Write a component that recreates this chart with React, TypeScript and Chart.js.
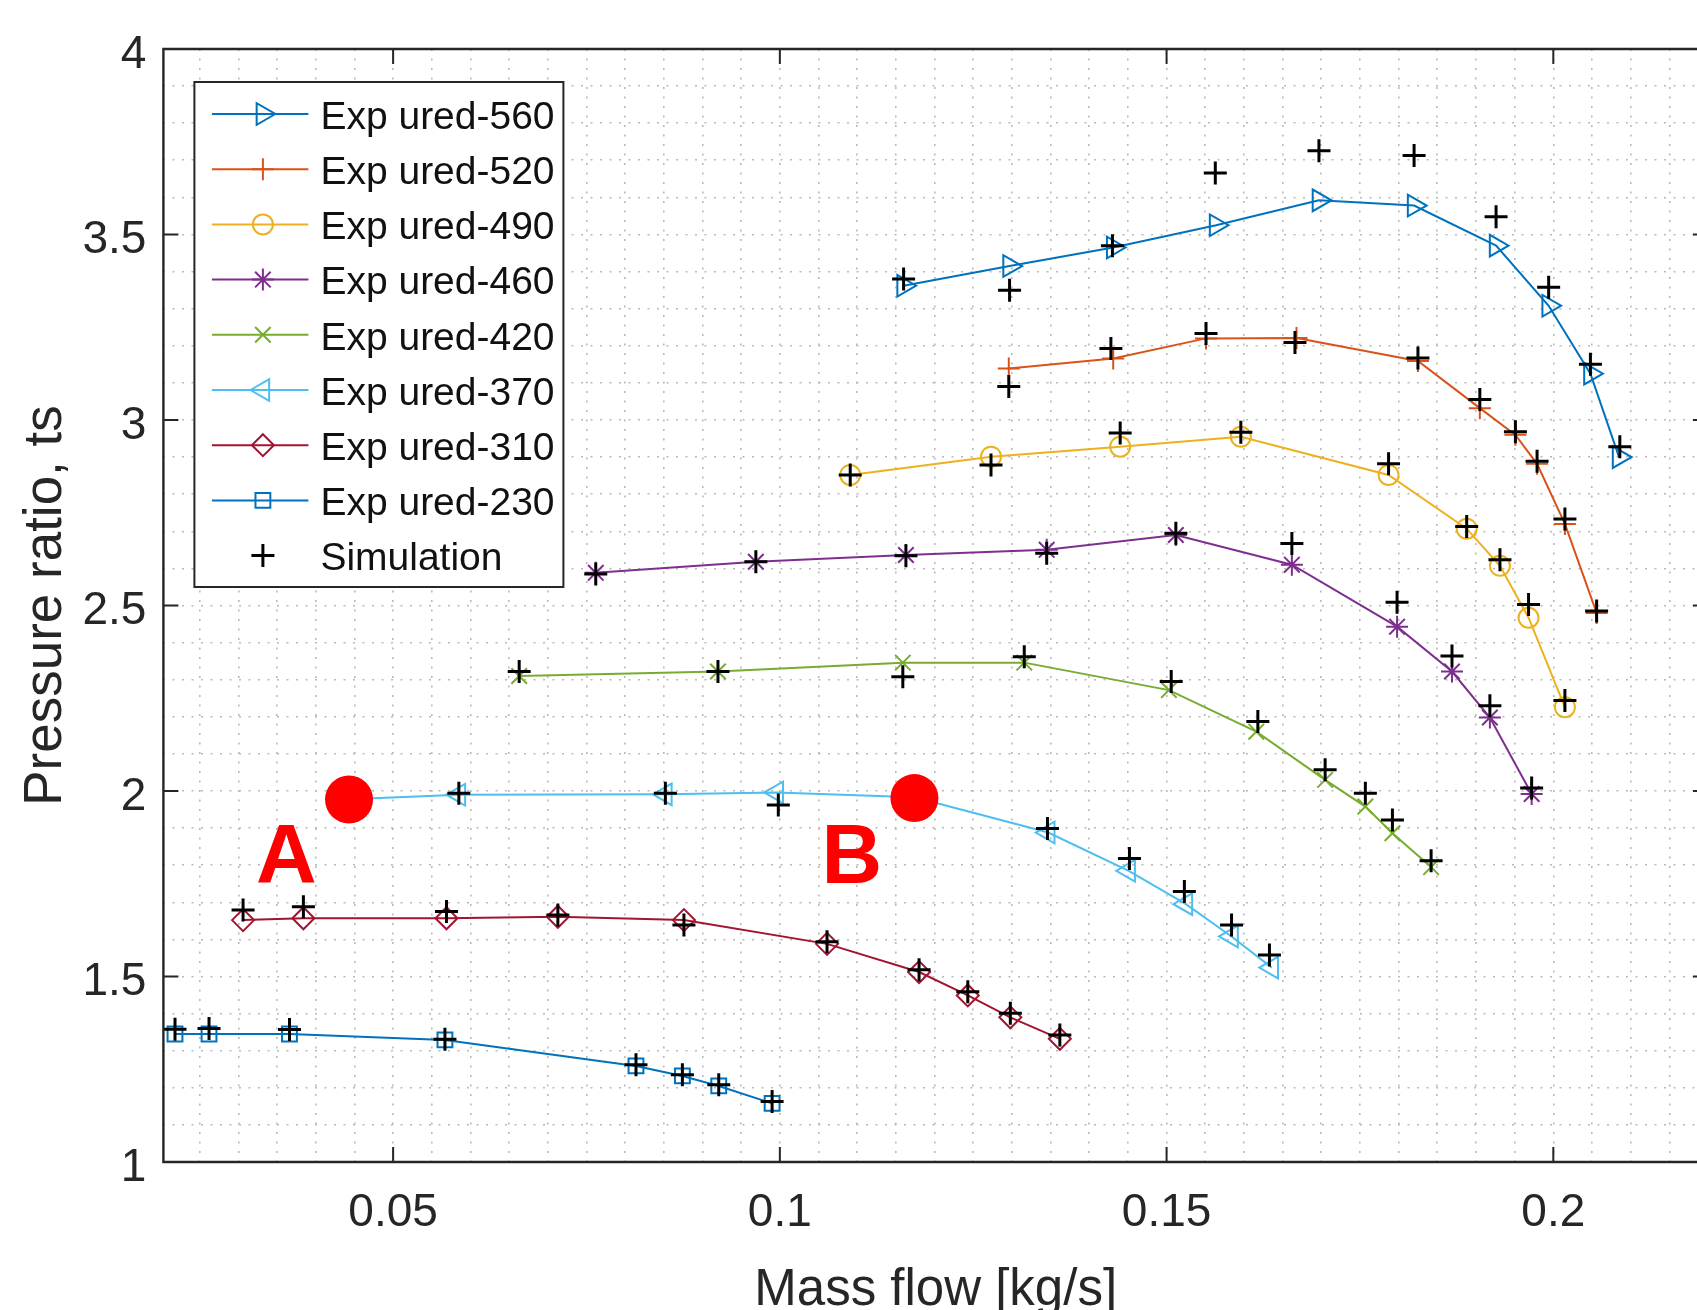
import React, { useEffect, useRef } from 'react';
import { Chart, registerables } from 'chart.js';
import { drawPoint } from 'chart.js/helpers';

Chart.register(...registerables);

// ---------- axes ----------
const X_MIN = 0.0203;
const X_MAX = 0.22;
const Y_MIN = 1;
const Y_MAX = 4;
const X_TICKS = [0.05, 0.1, 0.15, 0.2];
const X_TICK_LABELS = ['0.05', '0.1', '0.15', '0.2'];
const Y_TICKS = [1, 1.5, 2, 2.5, 3, 3.5, 4];
const Y_TICK_LABELS = ['1', '1.5', '2', '2.5', '3', '3.5', '4'];
const X_GRID_STEP = 0.005;
const Y_GRID_STEP = 0.1;
const X_TITLE = 'Mass flow [kg/s]';
const Y_TITLE = 'Pressure ratio, ts';

// ---------- series ----------
const SERIES_LABELS = [
  'Exp ured-560', 'Exp ured-520', 'Exp ured-490', 'Exp ured-460',
  'Exp ured-420', 'Exp ured-370', 'Exp ured-310', 'Exp ured-230',
];
const SIM_LABEL = 'Simulation';

const EXP_560_X = [0.1160, 0.1297, 0.1431, 0.1564, 0.1697, 0.1820, 0.1926, 0.1994, 0.2048, 0.2085];
const EXP_560_Y = [3.362, 3.415, 3.465, 3.525, 3.592, 3.578, 3.470, 3.308, 3.125, 2.900];
const SIM_560_X = [0.1160, 0.1297, 0.1430, 0.1563, 0.1697, 0.1820, 0.1926, 0.1994, 0.2048, 0.2086];
const SIM_560_Y = [3.380, 3.350, 3.470, 3.666, 3.726, 3.713, 3.548, 3.358, 3.150, 2.928];

const EXP_520_X = [0.1296, 0.1431, 0.1551, 0.1668, 0.1825, 0.1905, 0.1951, 0.1979, 0.2015, 0.2056];
const EXP_520_Y = [3.139, 3.166, 3.220, 3.221, 3.159, 3.032, 2.960, 2.882, 2.720, 2.480];
const SIM_520_X = [0.1296, 0.1428, 0.1551, 0.1666, 0.1825, 0.1905, 0.1951, 0.1979, 0.2015, 0.2056];
const SIM_520_Y = [3.090, 3.193, 3.233, 3.209, 3.167, 3.055, 2.968, 2.889, 2.733, 2.485];

const EXP_490_X = [0.1091, 0.1273, 0.1440, 0.1596, 0.1787, 0.1888, 0.1931, 0.1968, 0.2015];
const EXP_490_Y = [2.852, 2.901, 2.928, 2.955, 2.852, 2.707, 2.607, 2.467, 2.226];
const SIM_490_X = [0.1091, 0.1273, 0.1440, 0.1596, 0.1787, 0.1888, 0.1931, 0.1968, 0.2015];
const SIM_490_Y = [2.852, 2.879, 2.965, 2.967, 2.882, 2.713, 2.623, 2.503, 2.244];

const EXP_460_X = [0.0762, 0.0969, 0.1163, 0.1345, 0.1512, 0.1662, 0.1798, 0.1869, 0.1918, 0.1972];
const EXP_460_Y = [2.588, 2.618, 2.636, 2.650, 2.690, 2.610, 2.443, 2.322, 2.198, 1.992];
const SIM_460_X = [0.0762, 0.0969, 0.1163, 0.1345, 0.1512, 0.1662, 0.1798, 0.1869, 0.1918, 0.1972];
const SIM_460_Y = [2.585, 2.618, 2.634, 2.641, 2.695, 2.667, 2.509, 2.364, 2.230, 2.008];

const EXP_420_X = [0.0663, 0.0920, 0.1159, 0.1316, 0.1503, 0.1616, 0.1705, 0.1757, 0.1792, 0.1842];
const EXP_420_Y = [2.310, 2.322, 2.346, 2.346, 2.272, 2.160, 2.030, 1.958, 1.886, 1.795];
const SIM_420_X = [0.0663, 0.0920, 0.1159, 0.1316, 0.1506, 0.1618, 0.1705, 0.1757, 0.1792, 0.1842];
const SIM_420_Y = [2.322, 2.322, 2.308, 2.362, 2.295, 2.187, 2.057, 1.994, 1.922, 1.812];

const EXP_370_X = [0.0443, 0.0585, 0.0852, 0.0996, 0.1174, 0.1347, 0.1451, 0.1525, 0.1584, 0.1636];
const EXP_370_Y = [1.978, 1.990, 1.991, 1.996, 1.983, 1.888, 1.785, 1.695, 1.608, 1.524];
const SIM_370_X = [0.0443, 0.0585, 0.0852, 0.0998, 0.1174, 0.1346, 0.1452, 0.1523, 0.1584, 0.1633];
const SIM_370_Y = [1.978, 1.994, 1.994, 1.962, 1.983, 1.899, 1.818, 1.729, 1.639, 1.558];

const EXP_310_X = [0.0306, 0.0384, 0.0569, 0.0713, 0.0876, 0.1061, 0.1180, 0.1243, 0.1298, 0.1362];
const EXP_310_Y = [1.652, 1.657, 1.657, 1.661, 1.652, 1.588, 1.512, 1.449, 1.390, 1.332];
const SIM_310_X = [0.0306, 0.0384, 0.0569, 0.0713, 0.0876, 0.1061, 0.1180, 0.1243, 0.1298, 0.1362];
const SIM_310_Y = [1.679, 1.688, 1.675, 1.666, 1.639, 1.594, 1.518, 1.459, 1.401, 1.342];

const EXP_230_X = [0.0218, 0.0262, 0.0366, 0.0567, 0.0814, 0.0874, 0.0921, 0.0990];
const EXP_230_Y = [1.345, 1.345, 1.345, 1.329, 1.259, 1.232, 1.205, 1.158];
const SIM_230_X = [0.0218, 0.0262, 0.0366, 0.0567, 0.0814, 0.0874, 0.0921, 0.0990];
const SIM_230_Y = [1.358, 1.360, 1.357, 1.331, 1.262, 1.235, 1.208, 1.163];

// ---------- annotations (red dots + letters) ----------
const RED_DOT_X = [0.0443, 0.1174];
const RED_DOT_Y = [1.977, 1.981];
const ANNOT_LABELS = ['A', 'B'];
const ANNOT_X = [0.0362, 0.1093];
const ANNOT_Y = [1.815, 1.815];

// ---------- styles ----------
const FONT = "'Liberation Sans', Arial, Helvetica, sans-serif";
const AXIS_COLOR = '#262626';
const COLORS = ['#0072BD', '#D95319', '#EDB120', '#7E2F8E', '#77AC30', '#4DBEEE', '#A2142F', '#0072BD'];
const MARKERS = [
  { style: 'triangle', rotation: 90, radius: 12.5 },
  { style: 'cross', rotation: 0, radius: 11 },
  { style: 'circle', rotation: 0, radius: 10 },
  { style: 'star', rotation: 0, radius: 11 },
  { style: 'crossRot', rotation: 0, radius: 11 },
  { style: 'triangle', rotation: -90, radius: 12.5 },
  { style: 'rectRot', rotation: 0, radius: 11 },
  { style: 'rect', rotation: 0, radius: 10.5 },
];
const SIM_MARKER = { style: 'cross', rotation: 0, radius: 11.5, width: 3, color: '#000000' };

const EXP_X = [EXP_560_X, EXP_520_X, EXP_490_X, EXP_460_X, EXP_420_X, EXP_370_X, EXP_310_X, EXP_230_X];
const EXP_Y = [EXP_560_Y, EXP_520_Y, EXP_490_Y, EXP_460_Y, EXP_420_Y, EXP_370_Y, EXP_310_Y, EXP_230_Y];
const SIM_X = [SIM_560_X, SIM_520_X, SIM_490_X, SIM_460_X, SIM_420_X, SIM_370_X, SIM_310_X, SIM_230_X];
const SIM_Y = [SIM_560_Y, SIM_520_Y, SIM_490_Y, SIM_460_Y, SIM_420_Y, SIM_370_Y, SIM_310_Y, SIM_230_Y];

const VIEW_W = 1697;
const CANVAS_W = 1720; // wider than the view: the right frame of the axes lies just beyond the picture
const CANVAS_H = 1310;
const PLOT_RIGHT = 1708;

function gridValues(min: number, max: number, step: number, includeMax: boolean) {
  const out: { value: number }[] = [];
  const k0 = Math.ceil(min / step - 1e-9);
  const k1 = includeMax ? Math.floor(max / step + 1e-9) : Math.ceil(max / step - 1e-9) - 1;
  for (let k = k0; k <= k1; k++) out.push({ value: Math.round(k * step * 1e6) / 1e6 });
  return out;
}

function labelFor(v: number, ticks: number[], labels: string[]) {
  const i = ticks.findIndex((t) => Math.abs(t - v) < 1e-9);
  return i >= 0 ? labels[i] : '';
}

const framePlugin = {
  id: 'matlabFrame',
  afterDatasetsDraw(chart: any) {
    const { ctx, chartArea: a, scales } = chart;
    const tl = 15;
    ctx.save();
    ctx.strokeStyle = AXIS_COLOR;
    ctx.lineWidth = 2.4;
    ctx.beginPath();
    ctx.moveTo(a.left, a.top);
    ctx.lineTo(a.left, a.bottom);
    ctx.lineTo(a.right, a.bottom);
    ctx.lineTo(a.right, a.top);
    ctx.closePath();
    ctx.stroke();
    ctx.lineWidth = 2;
    ctx.beginPath();
    X_TICKS.forEach((t) => {
      const px = scales.x.getPixelForValue(t);
      ctx.moveTo(px, a.bottom);
      ctx.lineTo(px, a.bottom - tl);
      ctx.moveTo(px, a.top);
      ctx.lineTo(px, a.top + tl);
    });
    Y_TICKS.forEach((t) => {
      const py = scales.y.getPixelForValue(t);
      ctx.moveTo(a.left, py);
      ctx.lineTo(a.left + tl, py);
      ctx.moveTo(a.right, py);
      ctx.lineTo(a.right - tl, py);
    });
    ctx.stroke();
    ctx.restore();
  },
};

const annotationPlugin = {
  id: 'letters',
  afterDatasetsDraw(chart: any) {
    const { ctx, scales } = chart;
    ctx.save();
    ctx.fillStyle = '#ff0000';
    ctx.font = `bold 84px ${FONT}`;
    ctx.textAlign = 'center';
    ctx.textBaseline = 'middle';
    ANNOT_LABELS.forEach((s, i) => {
      ctx.fillText(s, scales.x.getPixelForValue(ANNOT_X[i]), scales.y.getPixelForValue(ANNOT_Y[i]));
    });
    ctx.restore();
  },
};

const legendPlugin = {
  id: 'matlabLegend',
  afterDraw(chart: any) {
    const { ctx, chartArea: a } = chart;
    const bx = a.left + 31;
    const by = a.top + 33;
    const bw = 369;
    const bh = 505;
    const rowH = 55.2;
    ctx.save();
    ctx.fillStyle = '#ffffff';
    ctx.fillRect(bx, by, bw, bh);
    ctx.strokeStyle = AXIS_COLOR;
    ctx.lineWidth = 2;
    ctx.strokeRect(bx, by, bw, bh);
    const entries = SERIES_LABELS.map((label, i) => ({
      label, color: COLORS[i], marker: MARKERS[i], line: true, width: 2,
    }));
    entries.push({ label: SIM_LABEL, color: SIM_MARKER.color, marker: SIM_MARKER, line: false, width: SIM_MARKER.width });
    entries.forEach((e, i) => {
      const cy = by + 32 + i * rowH;
      ctx.strokeStyle = e.color;
      if (e.line) {
        ctx.lineWidth = 2;
        ctx.beginPath();
        ctx.moveTo(bx + 17.5, cy);
        ctx.lineTo(bx + 114, cy);
        ctx.stroke();
      }
      ctx.fillStyle = 'rgba(0,0,0,0)';
      ctx.lineWidth = e.width;
      drawPoint(ctx, { pointStyle: e.marker.style, rotation: e.marker.rotation, radius: e.marker.radius, borderWidth: e.width }, bx + 68.5, cy);
      ctx.fillStyle = '#111111';
      ctx.font = `39px ${FONT}`;
      ctx.textAlign = 'left';
      ctx.textBaseline = 'middle';
      ctx.fillText(e.label, bx + 126, cy + 4);
    });
    ctx.restore();
  },
};

export default function App() {
  const ref = useRef<HTMLCanvasElement | null>(null);

  useEffect(() => {
    const canvas = ref.current;
    if (!canvas) return;

    const datasets: any[] = [];
    datasets.push({
      label: 'markers',
      data: RED_DOT_X.map((x, i) => ({ x, y: RED_DOT_Y[i] })),
      showLine: false,
      pointStyle: 'circle',
      pointRadius: 24,
      pointBackgroundColor: '#ff0000',
      pointBorderColor: '#ff0000',
      pointBorderWidth: 0,
      order: 0,
    });
    const simData: { x: number; y: number }[] = [];
    SIM_X.forEach((xs, s) => xs.forEach((x, i) => simData.push({ x, y: SIM_Y[s][i] })));
    datasets.push({
      label: SIM_LABEL,
      data: simData,
      showLine: false,
      pointStyle: SIM_MARKER.style,
      pointRadius: SIM_MARKER.radius,
      pointBorderWidth: SIM_MARKER.width,
      pointBorderColor: SIM_MARKER.color,
      pointBackgroundColor: 'rgba(0,0,0,0)',
      order: 1,
    });
    SERIES_LABELS.forEach((label, s) => {
      datasets.push({
        label,
        data: EXP_X[s].map((x, i) => ({ x, y: EXP_Y[s][i] })),
        showLine: true,
        tension: 0,
        borderColor: COLORS[s],
        borderWidth: 2,
        pointStyle: MARKERS[s].style,
        pointRotation: MARKERS[s].rotation,
        pointRadius: MARKERS[s].radius,
        pointBorderColor: COLORS[s],
        pointBackgroundColor: 'rgba(0,0,0,0)',
        pointBorderWidth: 2,
        order: 2 + s,
      });
    });

    const chart = new Chart(canvas, {
      type: 'scatter',
      data: { datasets },
      options: {
        animation: false,
        responsive: false,
        devicePixelRatio: 1,
        events: [],
        layout: { autoPadding: false, padding: { left: 0, top: 49, right: CANVAS_W - PLOT_RIGHT, bottom: 0 } },
        plugins: { legend: { display: false }, tooltip: { enabled: false } },
        scales: {
          x: {
            type: 'linear',
            position: 'bottom',
            min: X_MIN,
            max: X_MAX,
            afterBuildTicks: (s: any) => { s.ticks = gridValues(X_MIN, X_MAX, X_GRID_STEP, false); },
            afterFit: (s: any) => { s.height = CANVAS_H - 1162; },
            ticks: {
              autoSkip: false,
              maxRotation: 0,
              minRotation: 0,
              padding: 24,
              color: AXIS_COLOR,
              font: { family: FONT, size: 46 },
              callback: (v: any) => labelFor(Number(v), X_TICKS, X_TICK_LABELS),
            },
            grid: { color: '#b9b9b9', lineWidth: 1.6, drawTicks: false },
            border: { display: false, dash: [2, 7.5] },
            title: {
              display: true,
              text: X_TITLE,
              color: AXIS_COLOR,
              font: { family: FONT, size: 51, lineHeight: 0.75 },
              padding: { top: 0, bottom: 0 },
            },
          },
          y: {
            type: 'linear',
            position: 'left',
            min: Y_MIN,
            max: Y_MAX,
            afterBuildTicks: (s: any) => { s.ticks = gridValues(Y_MIN, Y_MAX, Y_GRID_STEP, true); },
            afterFit: (s: any) => { s.width = 163.4; },
            ticks: {
              autoSkip: false,
              padding: 17,
              labelOffset: 6,
              color: AXIS_COLOR,
              font: { family: FONT, size: 46 },
              callback: (v: any) => labelFor(Number(v), Y_TICKS, Y_TICK_LABELS),
            },
            grid: { color: '#b9b9b9', lineWidth: 1.6, drawTicks: false },
            border: { display: false, dash: [2, 7.5] },
            title: {
              display: true,
              text: Y_TITLE,
              color: AXIS_COLOR,
              font: { family: FONT, size: 53, lineHeight: 1.2 },
              padding: { top: 14.5, bottom: 0 },
            },
          },
        },
      } as any,
      plugins: [framePlugin, annotationPlugin, legendPlugin],
    });
    return () => chart.destroy();
  }, []);

  return (
    <div style={{ position: 'fixed', left: 0, top: 0, width: VIEW_W, height: CANVAS_H, overflow: 'hidden', background: '#ffffff' }}>
      <canvas ref={ref} width={CANVAS_W} height={CANVAS_H} style={{ display: 'block', width: CANVAS_W, height: CANVAS_H }} />
    </div>
  );
}
